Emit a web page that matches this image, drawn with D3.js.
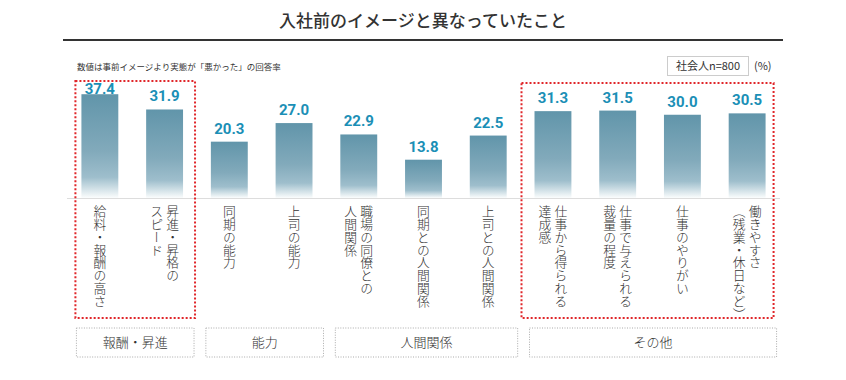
<!DOCTYPE html>
<html>
<head>
<meta charset="utf-8">
<script src="https://cdn.jsdelivr.net/npm/d3@7"></script>
<style>
  body { margin: 0; background: #fff; }
  svg { font-family: "Noto Sans CJK JP", "Noto Sans", sans-serif; }
</style>
</head>
<body>
<div id="chart"></div>
<script>
// data
const categories = [
    "給料・報酬の高さ",
    "昇進・昇格の\nスピード",
    "同期の能力",
    "上司の能力",
    "職場の同僚との\n人間関係",
    "同期との人間関係",
    "上司との人間関係",
    "仕事から得られる\n達成感",
    "仕事で与えられる\n裁量の程度",
    "仕事のやりがい",
    "働きやすさ\n（残業・休日など）"
];
const values = [37.4, 31.9, 20.3, 27.0, 22.9, 13.8, 22.5, 31.3, 31.5, 30.0, 30.5];
const groupNames = ["報酬・昇進", "能力", "人間関係", "その他"];
const groupRanges = [[0, 1], [2, 3], [4, 6], [7, 10]];
const highlighted = [0, 3]; // groups framed in red

const width = 846, height = 380;
const svg = d3.select("#chart").append("svg")
    .attr("width", width)
    .attr("height", height);

const x = d3.scaleBand()
    .domain(d3.range(categories.length))
    .range([67.5, 779.5])
    .paddingInner(0.43)
    .paddingOuter(0.215);
const y = d3.scaleLinear().domain([0, 40]).range([198, 87]);
const bw = x.bandwidth();

// gradient for bars
let defs = svg.append("defs");
let grad = defs.append("linearGradient")
    .attr("id", "barGrad")
    .attr("x1", 0).attr("y1", 0).attr("x2", 0).attr("y2", 1);
grad.append("stop").attr("offset", "0%").attr("stop-color", "#6195aa");
grad.append("stop").attr("offset", "55%").attr("stop-color", "#82aabb");
grad.append("stop").attr("offset", "80%").attr("stop-color", "#9ebecc");
grad.append("stop").attr("offset", "100%").attr("stop-color", "#fbfdfd");

// title
svg.append("text")
    .attr("x", 423).attr("y", 27)
    .attr("text-anchor", "middle")
    .attr("font-size", 17)
    .attr("font-weight", 500)
    .attr("fill", "#333")
    .text("入社前のイメージと異なっていたこと");
svg.append("line")
    .attr("x1", 63).attr("x2", 783)
    .attr("y1", 40).attr("y2", 40)
    .attr("stroke", "#333").attr("stroke-width", 2);

svg.append("text")
    .attr("x", 77).attr("y", 70)
    .attr("font-size", 8.5)
    .attr("fill", "#333")
    .text("数値は事前イメージより実態が「悪かった」の回答率");

// sample size box
svg.append("rect")
    .attr("x", 667.5).attr("y", 56.5)
    .attr("width", 81).attr("height", 19)
    .attr("fill", "#fff").attr("stroke", "#ccc");
svg.append("text")
    .attr("x", 708).attr("y", 70)
    .attr("text-anchor", "middle")
    .attr("font-size", 11).attr("fill", "#333")
    .text("社会人n=800");
svg.append("text")
    .attr("x", 754).attr("y", 70)
    .attr("font-size", 11).attr("fill", "#333")
    .text("(%)");

// baseline
svg.append("line")
    .attr("x1", 67).attr("x2", 780)
    .attr("y1", 198.5).attr("y2", 198.5)
    .attr("stroke", "#ddd");

// bars
svg.selectAll(".bar")
    .data(values)
    .enter()
    .append("rect")
    .classed("bar", true)
    .attr("x", (d, i) => x(i))
    .attr("y", d => y(d))
    .attr("width", bw)
    .attr("height", d => y(0) - y(d))
    .attr("fill", "url(#barGrad)");

// value labels
svg.selectAll(".val")
    .data(values)
    .enter()
    .append("text")
    .classed("val", true)
    .attr("x", (d, i) => x(i) + bw / 2)
    .attr("y", d => Math.max(y(d) - 8, 94))
    .attr("text-anchor", "middle")
    .attr("font-family", "Roboto, sans-serif")
    .attr("font-size", 15)
    .attr("font-weight", 700)
    .attr("fill", "#1b8fb6")
    .text(d => d.toFixed(1));

// vertical category labels
categories.forEach(function (c, i) {
    let cols = c.split("\n");
    let cx = x(i) + bw / 2;
    let spacing = 16;
    cols.forEach(function (col, j) {
        let offset = (cols.length - 1) / 2 * spacing - j * spacing;
        svg.append("text")
            .attr("x", cx + offset)
            .attr("y", 205)
            .style("writing-mode", "vertical-rl")
            .attr("font-size", 12.8)
            .attr("font-weight", 300)
            .attr("fill", "#333")
            .text(col);
    });
});

// group boxes
groupRanges.forEach(function (r, g) {
    let left = x(r[0]) - 5, right = x(r[1]) + bw + 11;
    svg.append("rect")
        .attr("x", left).attr("y", 328)
        .attr("width", right - left).attr("height", 29)
        .attr("fill", "none")
        .attr("stroke", "#aaa")
        .attr("stroke-dasharray", "1,1.5");
    svg.append("text")
        .attr("x", (left + right) / 2).attr("y", 347)
        .attr("text-anchor", "middle")
        .attr("font-size", 13)
        .attr("font-weight", 300)
        .attr("fill", "#333")
        .text(groupNames[g]);
});

// red dotted frames
highlighted.forEach(function (g, k) {
    let r = groupRanges[g];
    let left = x(r[0]) - (k === 0 ? 6 : 13), right = x(r[1]) + bw + (k === 0 ? 12 : 8);
    let top = k === 0 ? 81 : 83;
    svg.append("rect")
        .attr("x", left).attr("y", top)
        .attr("width", right - left).attr("height", 318 - top)
        .attr("fill", "none")
        .attr("stroke", "#e0262a")
        .attr("stroke-width", 2)
        .attr("stroke-dasharray", "2,2");
});
</script>
</body>
</html>
